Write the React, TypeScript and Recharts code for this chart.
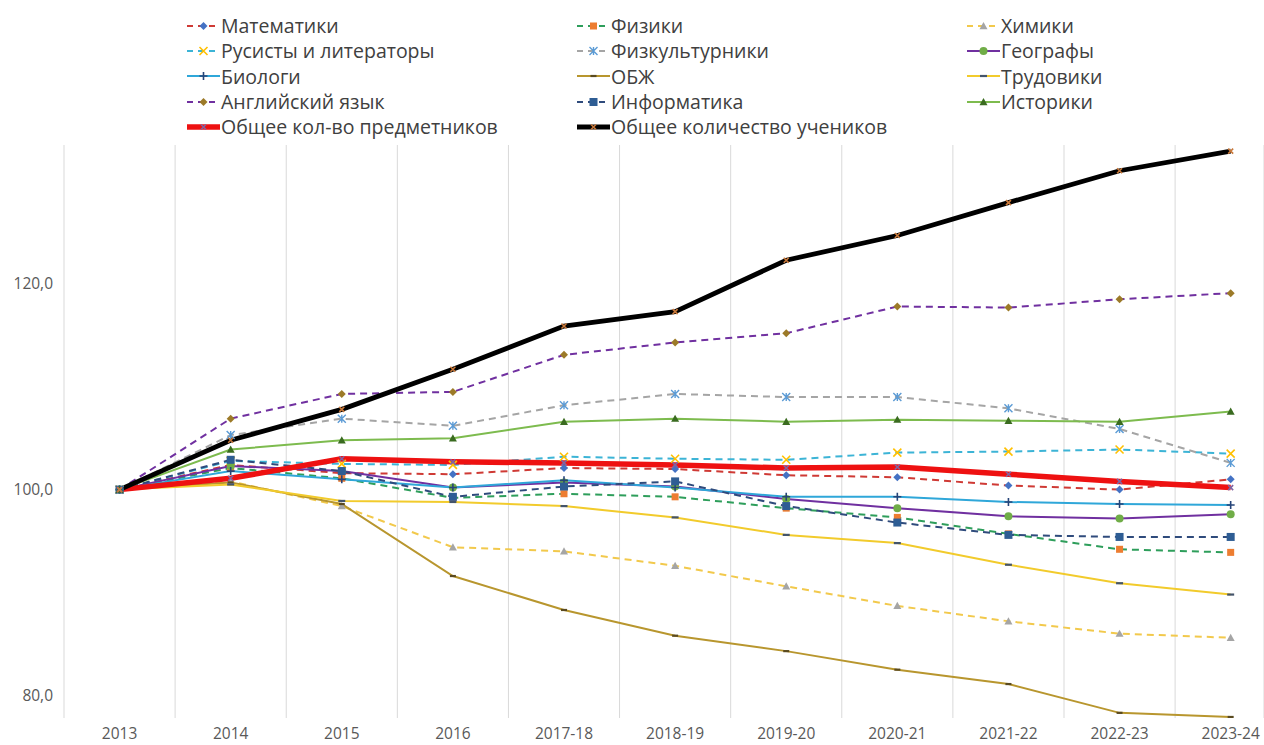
import React from 'react';
import { LineChart, Line, XAxis, YAxis, CartesianGrid } from 'recharts';

// school years (categories)
const years = ['2013', '2014', '2015', '2016', '2017-18', '2018-19', '2019-20', '2020-21', '2021-22', '2022-23', '2023-24'];

// index values, 2013 = 100
const math = [100, 102.4, 101.6, 101.5, 102.1, 102.0, 101.4, 101.2, 100.4, 100.0, 101.0];
const physics = [100, 102.1, 101.1, 99.2, 99.6, 99.3, 98.2, 97.3, 95.7, 94.2, 93.9];
const chemistry = [100, 100.8, 98.4, 94.4, 94.0, 92.6, 90.6, 88.7, 87.2, 86.0, 85.6];
const russian = [100, 102.8, 102.5, 102.4, 103.2, 103.0, 102.9, 103.6, 103.7, 103.9, 103.5];
const pe = [100, 105.3, 106.9, 106.2, 108.2, 109.3, 109.0, 109.0, 107.9, 105.9, 102.6];
const geography = [100, 102.3, 101.8, 100.2, 100.7, 100.3, 99.1, 98.2, 97.4, 97.2, 97.6];
const biology = [100, 101.8, 101.0, 100.2, 100.9, 100.2, 99.3, 99.3, 98.8, 98.6, 98.5];
const obzh = [100, 100.7, 98.6, 91.6, 88.3, 85.8, 84.3, 82.5, 81.1, 78.3, 77.9];
const labour = [100, 100.5, 98.9, 98.8, 98.4, 97.3, 95.6, 94.8, 92.7, 90.9, 89.8];
const english = [100, 106.9, 109.3, 109.5, 113.1, 114.3, 115.2, 117.8, 117.7, 118.5, 119.1];
const informatics = [100, 102.9, 101.8, 99.3, 100.3, 100.8, 98.4, 96.8, 95.6, 95.4, 95.4];
const history = [100, 103.9, 104.8, 105.0, 106.6, 106.9, 106.6, 106.8, 106.7, 106.6, 107.6];
const teachersTotal = [100, 101.1, 103.0, 102.7, 102.6, 102.4, 102.1, 102.2, 101.5, 100.8, 100.2];
const pupilsTotal = [100, 104.8, 107.8, 111.7, 115.9, 117.3, 122.3, 124.7, 127.9, 131.0, 132.9];

const yTicks = [80, 100, 120];
const gridTicks = [-0.5, 0.5, 1.5, 2.5, 3.5, 4.5, 5.5, 6.5, 7.5, 8.5, 9.5];

type Shape = 'diamond' | 'square' | 'triangle' | 'x' | 'star' | 'circle' | 'plus' | 'dash';

interface Series {
  name: string;
  values: number[];
  color: string;
  dashed: boolean;
  width: number;
  shape: Shape;
  markColor: string;
  markSize: number;
}

// legend order is row by row, three columns
const series: Series[] = [
  { name: 'Математики', values: math, color: '#CF3A35', dashed: true, width: 2, shape: 'diamond', markColor: '#4472C4', markSize: 8 },
  { name: 'Физики', values: physics, color: '#2E9E5B', dashed: true, width: 2, shape: 'square', markColor: '#ED7D31', markSize: 7 },
  { name: 'Химики', values: chemistry, color: '#F2C94C', dashed: true, width: 2, shape: 'triangle', markColor: '#A5A5A5', markSize: 8 },
  { name: 'Русисты и литераторы', values: russian, color: '#3CB4D6', dashed: true, width: 2, shape: 'x', markColor: '#FFC000', markSize: 8 },
  { name: 'Физкультурники', values: pe, color: '#A5A5A5', dashed: true, width: 2, shape: 'star', markColor: '#5B9BD5', markSize: 8 },
  { name: 'Географы', values: geography, color: '#7030A0', dashed: false, width: 2, shape: 'circle', markColor: '#70AD47', markSize: 8 },
  { name: 'Биологи', values: biology, color: '#2FA7D9', dashed: false, width: 2, shape: 'plus', markColor: '#264478', markSize: 8 },
  { name: 'ОБЖ', values: obzh, color: '#B8962E', dashed: false, width: 2, shape: 'dash', markColor: '#5A4A20', markSize: 6 },
  { name: 'Трудовики', values: labour, color: '#F2CB2C', dashed: false, width: 2, shape: 'dash', markColor: '#44546A', markSize: 7 },
  { name: 'Английский язык', values: english, color: '#7030A0', dashed: true, width: 2, shape: 'diamond', markColor: '#9C7A28', markSize: 8 },
  { name: 'Информатика', values: informatics, color: '#2F4B7C', dashed: true, width: 2, shape: 'square', markColor: '#2E5D94', markSize: 8 },
  { name: 'Историки', values: history, color: '#7DBB4E', dashed: false, width: 2, shape: 'triangle', markColor: '#3A6B20', markSize: 8 },
  { name: 'Общее кол-во предметников', values: teachersTotal, color: '#EE1111', dashed: false, width: 5.5, shape: 'x', markColor: '#8064A2', markSize: 5 },
  { name: 'Общее количество учеников', values: pupilsTotal, color: '#000000', dashed: false, width: 4.8, shape: 'x', markColor: '#C8783A', markSize: 5 },
];

const data = years.map((label, i) => {
  const row: Record<string, number | string> = { idx: i, label };
  series.forEach((s, k) => {
    row['s' + k] = s.values[i];
  });
  return row;
});

const Mark = ({ cx, cy, shape, color, size }: { cx?: number; cy?: number; shape: Shape; color: string; size: number }) => {
  if (cx == null || cy == null) return null;
  const h = size / 2;
  switch (shape) {
    case 'diamond':
      return <path d={`M${cx},${cy - h}L${cx + h},${cy}L${cx},${cy + h}L${cx - h},${cy}Z`} fill={color} />;
    case 'square':
      return <rect x={cx - h} y={cy - h} width={size} height={size} fill={color} />;
    case 'triangle':
      return <path d={`M${cx},${cy - h}L${cx + h},${cy + h * 0.8}L${cx - h},${cy + h * 0.8}Z`} fill={color} />;
    case 'circle':
      return <circle cx={cx} cy={cy} r={h} fill={color} />;
    case 'x':
      return <path d={`M${cx - h},${cy - h}L${cx + h},${cy + h}M${cx + h},${cy - h}L${cx - h},${cy + h}`} stroke={color} strokeWidth={1.6} />;
    case 'star':
      return (
        <path
          d={`M${cx - h},${cy - h}L${cx + h},${cy + h}M${cx + h},${cy - h}L${cx - h},${cy + h}M${cx},${cy - h}L${cx},${cy + h}`}
          stroke={color}
          strokeWidth={1.4}
        />
      );
    case 'plus':
      return <path d={`M${cx - h},${cy}L${cx + h},${cy}M${cx},${cy - h}L${cx},${cy + h}`} stroke={color} strokeWidth={1.6} />;
    case 'dash':
      return <path d={`M${cx - h},${cy}L${cx + h},${cy}`} stroke={color} strokeWidth={2.2} />;
    default:
      return null;
  }
};

const fmtY = (v: number) => v.toFixed(1).replace('.', ',');
const fmtX = (v: number) => years[v] ?? '';

const LegendBox = () => (
  <div
    style={{
      position: 'absolute',
      top: 13,
      left: 187,
      display: 'grid',
      gridTemplateColumns: '390px 390px 300px',
      gridAutoRows: '25.3px',
      fontFamily: '"Open Sans", sans-serif',
      fontSize: 19.5,
      color: '#404040',
    }}
  >
    {series.map((s) => (
      <div key={s.name} style={{ display: 'flex', alignItems: 'center', whiteSpace: 'nowrap' }}>
        <svg width={33} height={14} style={{ marginRight: 1 }}>
          <line
            x1={0}
            y1={7}
            x2={33}
            y2={7}
            stroke={s.color}
            strokeWidth={s.width}
            strokeDasharray={s.dashed ? '6 5' : undefined}
          />
          <Mark cx={16.5} cy={7} shape={s.shape} color={s.markColor} size={s.markSize} />
        </svg>
        <span>{s.name}</span>
      </div>
    ))}
  </div>
);

export default function App() {
  return (
    <div style={{ position: 'fixed', left: 0, top: 0, width: 1264, height: 745, background: '#fff', overflow: 'hidden' }}>
      <LegendBox />
      <LineChart width={1264} height={745} data={data} margin={{ top: 145, right: 0, bottom: 0, left: 0 }}>
        <XAxis
          xAxisId="grid"
          dataKey="idx"
          type="number"
          domain={[-0.5, 10.3]}
          ticks={gridTicks}
          allowDataOverflow
          hide
        />
        <CartesianGrid xAxisId="grid" horizontal={false} stroke="#D9D9D9" />
        <XAxis
          dataKey="idx"
          type="number"
          domain={[-0.5, 10.3]}
          ticks={years.map((_, i) => i)}
          tickFormatter={fmtX}
          allowDataOverflow
          axisLine={false}
          tickLine={false}
          tickSize={0}
          tickMargin={10}
          height={27}
          tick={{ fill: '#595959', fontSize: 15.5, fontFamily: '"Open Sans", sans-serif' }}
        />
        <YAxis
          type="number"
          domain={[77.8, 133.5]}
          ticks={yTicks}
          tickFormatter={fmtY}
          allowDataOverflow
          axisLine={false}
          tickLine={false}
          tickSize={0}
          tickMargin={11}
          width={64}
          tick={{ fill: '#595959', fontSize: 15.5, fontFamily: '"Open Sans", sans-serif' }}
        />
        {series.map((s, k) => (
          <Line
            key={s.name}
            type="linear"
            dataKey={'s' + k}
            name={s.name}
            stroke={s.color}
            strokeWidth={s.width}
            strokeDasharray={s.dashed ? '7 5' : undefined}
            isAnimationActive={false}
            dot={(p: any) => (
              <Mark key={`${k}-${p.index}`} cx={p.cx} cy={p.cy} shape={s.shape} color={s.markColor} size={s.markSize} />
            )}
            activeDot={false}
          />
        ))}
      </LineChart>
    </div>
  );
}
